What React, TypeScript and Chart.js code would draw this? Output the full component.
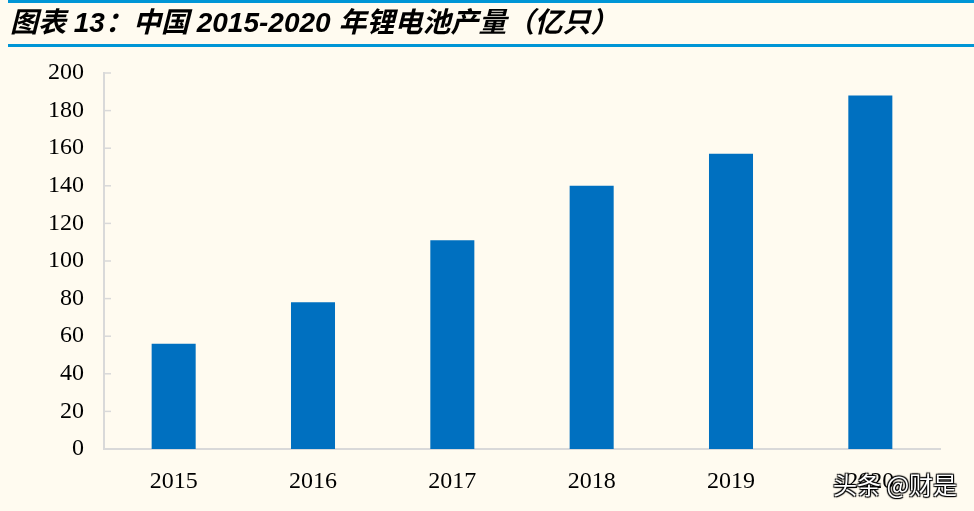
import { useEffect, useRef } from "react";
import { Chart, registerables } from "chart.js";

Chart.register(...registerables);

// Lithium battery output in China, 100 million units
const years = ["2015", "2016", "2017", "2018", "2019", "2020"];
const output = [56, 78, 111, 140, 157, 188];
const yTicks = [0, 20, 40, 60, 80, 100, 120, 140, 160, 180, 200];

const BG = "#FFFBF0";
const AXIS = "#D9D9D9";

// short tick marks pointing into the plot area
const innerTicks = {
  id: "innerTicks",
  afterDraw(chart: any) {
    const y = chart.scales.y;
    const ctx = chart.ctx;
    ctx.save();
    ctx.strokeStyle = AXIS;
    ctx.lineWidth = 1.5;
    yTicks.forEach((v) => {
      const py = y.getPixelForValue(v);
      ctx.beginPath();
      ctx.moveTo(y.right, py);
      ctx.lineTo(y.right + 7, py);
      ctx.stroke();
    });
    ctx.restore();
  },
};

const App = () => {
  const canvasRef = useRef<HTMLCanvasElement>(null);

  useEffect(() => {
    if (!canvasRef.current) return;
    const chart = new Chart(canvasRef.current, {
      type: "bar",
      data: {
        labels: years,
        datasets: [
          {
            data: output,
            backgroundColor: "#0070C0",
            barPercentage: 0.316,
            categoryPercentage: 1,
          },
        ],
      },
      options: {
        animation: false,
        responsive: false,
        layout: { padding: { top: 73, right: 34, left: 0, bottom: 0 } },
        plugins: { legend: { display: false }, tooltip: { enabled: false } },
        scales: {
          x: {
            grid: { display: false, drawTicks: false },
            border: { color: AXIS, width: 2 },
            ticks: {
              color: "#000",
              padding: 18,
              font: { family: "'Liberation Serif', serif", size: 24 },
            },
            afterFit: (s: any) => {
              s.height = 62;
            },
          },
          y: {
            min: 0,
            max: 200,
            grid: { display: false, drawTicks: false },
            border: { color: AXIS, width: 2 },
            afterBuildTicks: (s: any) => {
              s.ticks = yTicks.map((v) => ({ value: v }));
            },
            ticks: {
              color: "#000",
              padding: 20,
              font: { family: "'Liberation Serif', serif", size: 24 },
            },
            afterFit: (s: any) => {
              s.width = 104;
            },
          },
        },
      },
      plugins: [innerTicks],
    });
    return () => chart.destroy();
  }, []);

  return (
    <div
      style={{
        position: "fixed",
        left: 0,
        top: 0,
        width: 974,
        height: 511,
        background: BG,
        overflow: "hidden",
      }}
    >
      <canvas ref={canvasRef} width={974} height={511} style={{ position: "absolute", left: 0, top: 0 }} />
      <div style={{ position: "absolute", left: 8, right: 0, top: 0, height: 3, background: "#0096D6" }} />
      <div
        style={{
          position: "absolute",
          left: 10,
          top: 4,
          fontFamily: "'Liberation Sans', 'Noto Sans CJK SC', sans-serif",
          fontStyle: "italic",
          fontWeight: "bold",
          fontSize: 28,
          lineHeight: "38px",
          color: "#000",
          whiteSpace: "nowrap",
        }}
      >
        图表 13：中国 2015-2020 年锂电池产量（亿只）
      </div>
      <div style={{ position: "absolute", left: 8, right: 0, top: 44, height: 3, background: "#0096D6" }} />
      <div
        style={{
          position: "absolute",
          left: 833,
          top: 466,
          fontFamily: "'Noto Sans CJK SC', sans-serif",
          fontSize: 24,
          color: "#fff",
          whiteSpace: "nowrap",
          textShadow: "1px 1px 1px #000, -1px -1px 1px #000, 1px -1px 1px #000, -1px 1px 1px #000",
        }}
      >
        头条 @财是
      </div>
    </div>
  );
};

export default App;
